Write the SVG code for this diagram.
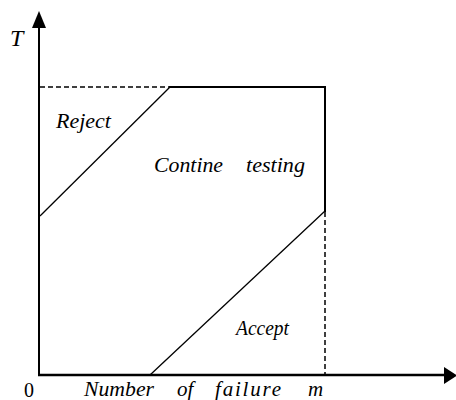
<svg xmlns="http://www.w3.org/2000/svg" width="456" height="400" viewBox="0 0 456 400">
<style>
.lbl{font-family:'Liberation Serif','DejaVu Serif',serif;font-style:italic;font-size:21px;fill:#000}
.num{font-family:'Liberation Serif','DejaVu Serif',serif;font-size:20px;fill:#000}
.ax{stroke:#000;stroke-width:2;fill:none}
.solid{stroke:#000;stroke-width:2;fill:none}
.dash{stroke:#000;stroke-width:1.5;stroke-dasharray:5 3;fill:none}
.diag{stroke:#000;stroke-width:1.3;fill:none}
</style>
<rect width="456" height="400" fill="#fff"/>
<g id="axes">
<line class="ax" x1="39" y1="376" x2="39" y2="26"/>
<polygon points="39,11 32,28 46,28" fill="#000"/>
<line class="ax" x1="38" y1="375" x2="446" y2="375" style="stroke-width:2.5"/>
<polygon points="457,375.5 444,367 444,384" fill="#000"/>
<text class="lbl" x="10" y="46" style="font-size:24px">T</text>
<text class="num" x="24" y="397">0</text>
<text class="lbl" x="84" y="396" textLength="70" lengthAdjust="spacingAndGlyphs">Number</text>
<text class="lbl" x="177" y="396">of</text>
<text class="lbl" x="215" y="396" textLength="66" lengthAdjust="spacing">failure</text>
<text class="lbl" x="308" y="396">m</text>
</g>
<g id="connectors">
<line class="dash" x1="40" y1="87" x2="170" y2="87"/>
<line class="solid" x1="169" y1="87" x2="326" y2="87"/>
<line class="solid" x1="325" y1="86" x2="325" y2="212"/>
<line class="dash" x1="325" y1="212" x2="325" y2="375"/>
<line class="diag" x1="40" y1="216" x2="170" y2="87"/>
<line class="diag" x1="150" y1="375" x2="325" y2="211"/>
</g>
<g id="reject"><text class="lbl" x="56" y="128" textLength="55" lengthAdjust="spacingAndGlyphs">Reject</text></g>
<g id="continue"><text class="lbl" x="154" y="172" textLength="69" lengthAdjust="spacingAndGlyphs">Contine</text><text class="lbl" x="246" y="172" textLength="59" lengthAdjust="spacingAndGlyphs">testing</text></g>
<g id="accept"><text class="lbl" x="236" y="335" textLength="53" lengthAdjust="spacingAndGlyphs">Accept</text></g>
</svg>
